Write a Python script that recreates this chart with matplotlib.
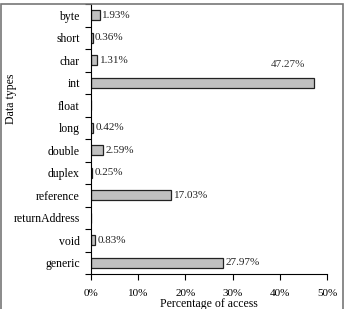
import matplotlib.pyplot as plt
from matplotlib.patches import Rectangle

plt.rcParams['font.family'] = ['Liberation Serif', 'DejaVu Serif']

types = ["byte", "short", "char", "int", "float", "long", "double",
         "duplex", "reference", "returnAddress", "void", "generic"]
access = [1.93, 0.36, 1.31, 47.27, 0.0, 0.42, 2.59, 0.25, 17.03, 0.0, 0.83, 27.97]
labels = ["1.93%", "0.36%", "1.31%", "47.27%", "", "0.42%", "2.59%",
          "0.25%", "17.03%", "", "0.83%", "27.97%"]
xticks = [0, 10, 20, 30, 40, 50]

fig = plt.figure(figsize=(3.46, 3.09), dpi=100)
ax = fig.add_axes([91 / 346, 1 - 274 / 309, 236 / 346, 270 / 309])

pos = list(range(len(types)))
ax.barh(pos, access, height=0.45, color="#c0c0c0", edgecolor="#222222", linewidth=0.9)

for p, v, lab in zip(pos, access, labels):
    if not lab:
        continue
    if v > 40:
        ax.text(v - 2, p - 0.8, lab, ha="right", va="center", fontsize=8, color="#333333")
    else:
        ax.text(v + 0.5, p, lab, ha="left", va="center", fontsize=8, color="#222222")

ax.set_ylim(len(types) - 0.5, -0.5)
ax.set_xlim(0, 50)
ax.set_yticks([p - 0.5 for p in pos] + [len(types) - 0.5])
ax.set_yticklabels([])
ax.set_yticks(pos, minor=True)
ax.set_yticklabels(types, minor=True, fontsize=8.5)
ax.tick_params(axis="y", which="minor", length=0, pad=8)
ax.tick_params(axis="y", which="major", length=4, width=0.8, direction="out")
ax.set_xticks(xticks)
ax.set_xticklabels([f"{t}%" for t in xticks], fontsize=8)
ax.tick_params(axis="x", length=4, width=0.8, direction="out", pad=7)

ax.spines["top"].set_visible(False)
ax.spines["right"].set_visible(False)
ax.set_xlabel("Percentage of access", fontsize=8.5, labelpad=0)
fig.text(11 / 346, 1 - 99 / 309, "Data types", rotation=90, ha="center", va="center", fontsize=8.5)

fig.patches.append(Rectangle((1.5 / 346, -0.05), 341.5 / 346, 1.05 - 4 / 309,
                             transform=fig.transFigure, fill=False,
                             edgecolor="#777777", linewidth=1.2))

fig.savefig("out.png", dpi=100)
